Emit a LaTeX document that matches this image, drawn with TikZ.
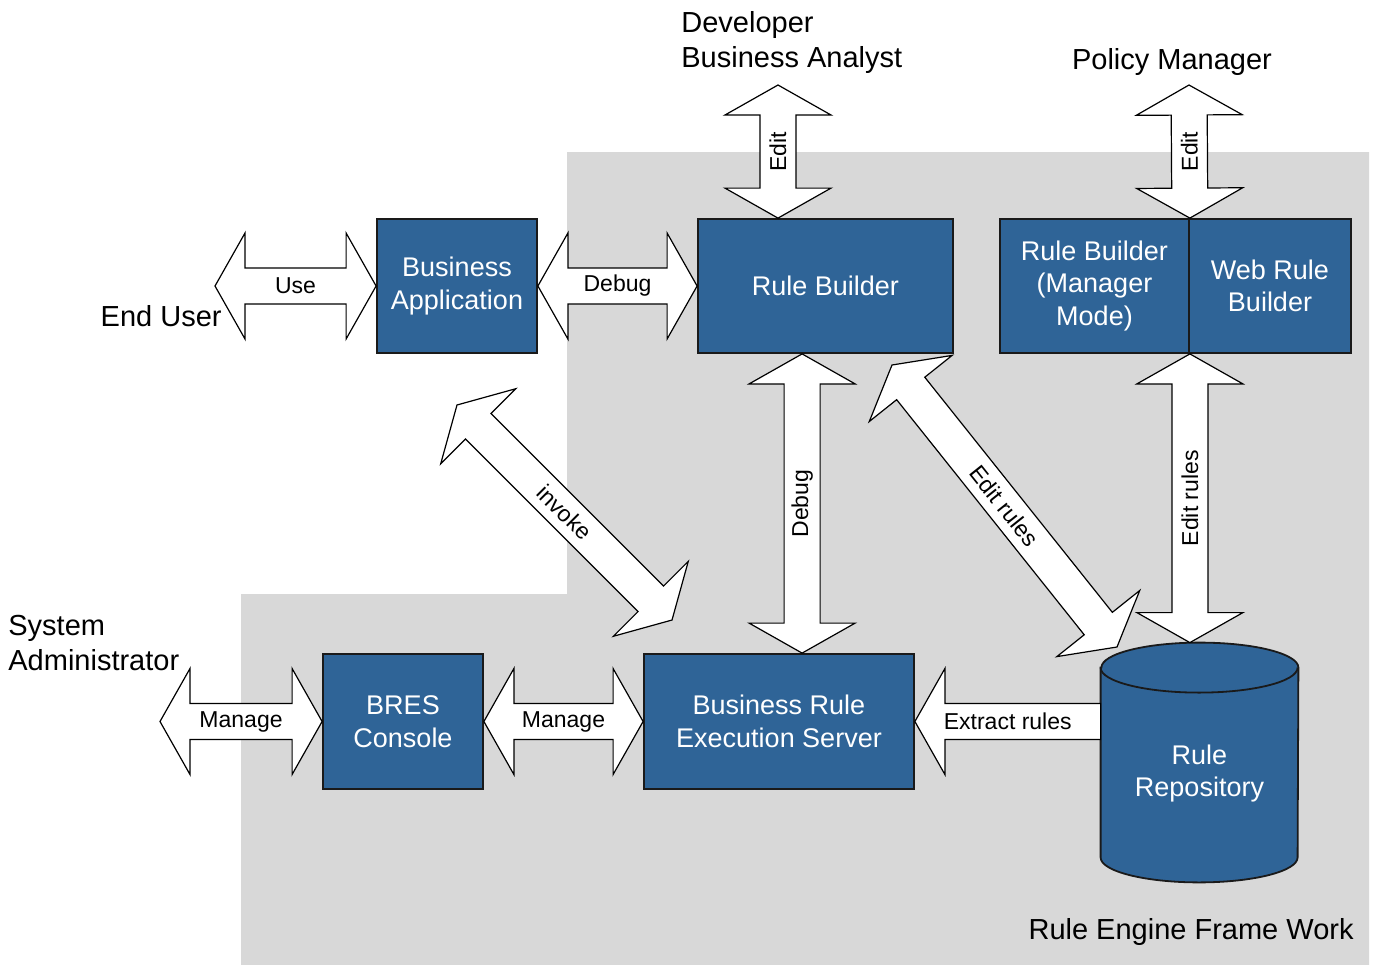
\documentclass[tikz,border=0pt]{standalone}
\usepackage{fontspec}
\setmainfont{Liberation Sans}
\usepackage{tikz}
\usetikzlibrary{positioning, calc}
\usepackage{xcolor}
\definecolor{rulebox}{HTML}{2F6497}
\definecolor{rulegray}{HTML}{D8D8D8}
\definecolor{ruleedge}{HTML}{1A1A1A}

% block arrow sizes
\newcommand{\headlen}{15pt}
\newcommand{\headwid}{26.5pt}
\newcommand{\shaftwid}{9pt}

% double block arrow from #1 to #2, label #3
\newcommand{\dblarrow}[3]{%
  \draw[blk] let \p1=(#1), \p2=(#2),
      \n1={atan2(\y2-\y1,\x2-\x1)}, \n2={veclen(\x2-\x1,\y2-\y1)} in
    [shift={(\p1)}, rotate=\n1]
    (0pt,0pt) -- (\headlen,\headwid) -- (\headlen,\shaftwid)
    -- (\n2-\headlen,\shaftwid) -- (\n2-\headlen,\headwid) -- (\n2+0pt,0pt)
    -- (\n2-\headlen,-\headwid) -- (\n2-\headlen,-\shaftwid)
    -- (\headlen,-\shaftwid) -- (\headlen,-\headwid) -- cycle
    (\n2/2+0pt,0pt) node[arrlbl, transform shape] {#3};}

% single block arrow, tip at #1, tail at #2
\newcommand{\sglarrow}[3]{%
  \draw[blk] let \p1=(#1), \p2=(#2),
      \n1={atan2(\y2-\y1,\x2-\x1)}, \n2={veclen(\x2-\x1,\y2-\y1)} in
    [shift={(\p1)}, rotate=\n1]
    (0pt,0pt) -- (\headlen,\headwid) -- (\headlen,\shaftwid)
    -- (\n2+0pt,\shaftwid) -- (\n2+0pt,-\shaftwid)
    -- (\headlen,-\shaftwid) -- (\headlen,-\headwid) -- cycle
    (\n2/2+0pt,0pt) node[arrlbl, transform shape] {#3};}

\begin{document}
\begin{tikzpicture}[
  x=0.5pt, y=-0.5pt,
  box/.style={draw=ruleedge, line width=0.9pt, fill=rulebox, text=white,
    align=center, inner sep=2pt, minimum height=67pt,
    font=\fontsize{13.5pt}{16.25pt}\selectfont},
  boxtext/.style={text=white, align=center, inner sep=0pt,
    font=\fontsize{13.5pt}{16.25pt}\selectfont},
  blk/.style={draw=black, fill=white, line width=0.6pt, line join=miter},
  arrlbl/.style={inner sep=0pt, font=\fontsize{11.5pt}{13pt}\selectfont},
  actor/.style={align=left, inner sep=0pt,
    font=\fontsize{14.5pt}{17.5pt}\selectfont}
]
  \useasboundingbox (0,0) rectangle (1373,965);

  % Frame work area
  \fill[rulegray] (567,152) -- (1369,152) -- (1369,965) -- (241,965)
    -- (241,594) -- (567,594) -- cycle;
  \node[actor, anchor=east] (frame) at (1354,932) {Rule Engine Frame Work};

  % Actors
  \node[actor, anchor=west] (dev) at (681,42.5) {Developer\\Business Analyst};
  \node[actor] (policy) at (1172,62) {Policy Manager};
  \node[actor, anchor=east] (enduser) at (222,316) {End User};
  \node[actor, anchor=west] (admin) at (8,643) {System\\Administrator};

  % Components
  \node[box, minimum width=80pt] (busapp) at (457,286) {Business\\Application};
  \node[box, minimum width=127.5pt] (rulebld) at (825.5,286) {Rule Builder};
  \node[box, minimum width=94.5pt] (rbmgr) at (1094.5,286)
    {Rule Builder\\(Manager\\Mode)};
  \node[box, minimum width=81pt] (webrb) at (1270,286) {Web Rule\\Builder};
  \node[box, minimum width=80pt, minimum height=67.5pt] (bres) at (403,721.5)
    {BRES\\Console};
  \node[box, minimum width=135pt, minimum height=67.5pt] (exec) at (779,721.5)
    {Business Rule\\Execution Server};

  % Repository
  \node[minimum width=98.5pt, minimum height=119.5pt, inner sep=0pt]
    (repo) at (1199.5,762.5) {};
  \draw[draw=ruleedge, line width=0.9pt, fill=rulebox]
    ($(repo.north west)+(0,25)$) -- ($(repo.south west)+(0,-25)$)
    arc[start angle=180, end angle=360, x radius=49.25pt, y radius=12.5pt]
    -- ($(repo.north east)+(0,25)$)
    arc[start angle=0, end angle=180, x radius=49.25pt, y radius=12.5pt]
    -- cycle;
  \draw[ruleedge, line width=0.9pt] ($(repo.north west)+(0,25)$)
    arc[start angle=180, end angle=360, x radius=49.25pt, y radius=12.5pt];
  \node[boxtext] (repolbl) at ($(repo.center)+(0,11)$) {Rule\\Repository};

  % Arrow ends
  \coordinate (usetip) at (215,286);
  \coordinate (admtip) at (160,721.5);
  \coordinate (devtip) at (778,85);
  \coordinate (poltip) at (1189,85);
  \coordinate (dbg) at ($(exec.north west)!0.585!(exec.north east)$);
  \coordinate (inv1) at (457,405);
  \coordinate (inv2) at (672,620);
  \coordinate (edr1) at (892,365);
  \coordinate (edr2) at (1117,647);

  % Block arrows
  \dblarrow{usetip}{busapp.west}{Use}
  \dblarrow{busapp.east}{rulebld.west}{Debug}
  \dblarrow{rulebld.north -| devtip}{devtip}{Edit}
  \dblarrow{rbmgr.north east}{poltip}{Edit}
  \dblarrow{dbg}{dbg |- rulebld.south}{Debug}
  \dblarrow{rbmgr.south east |- repo.north}{rbmgr.south east}{Edit rules}
  \dblarrow{inv1}{inv2}{invoke}
  \dblarrow{edr1}{edr2}{Edit rules}
  \dblarrow{admtip}{bres.west}{Manage}
  \dblarrow{bres.east}{exec.west}{Manage}
  \sglarrow{exec.east}{exec.east -| repo.west}{Extract rules}
\end{tikzpicture}
\end{document}
